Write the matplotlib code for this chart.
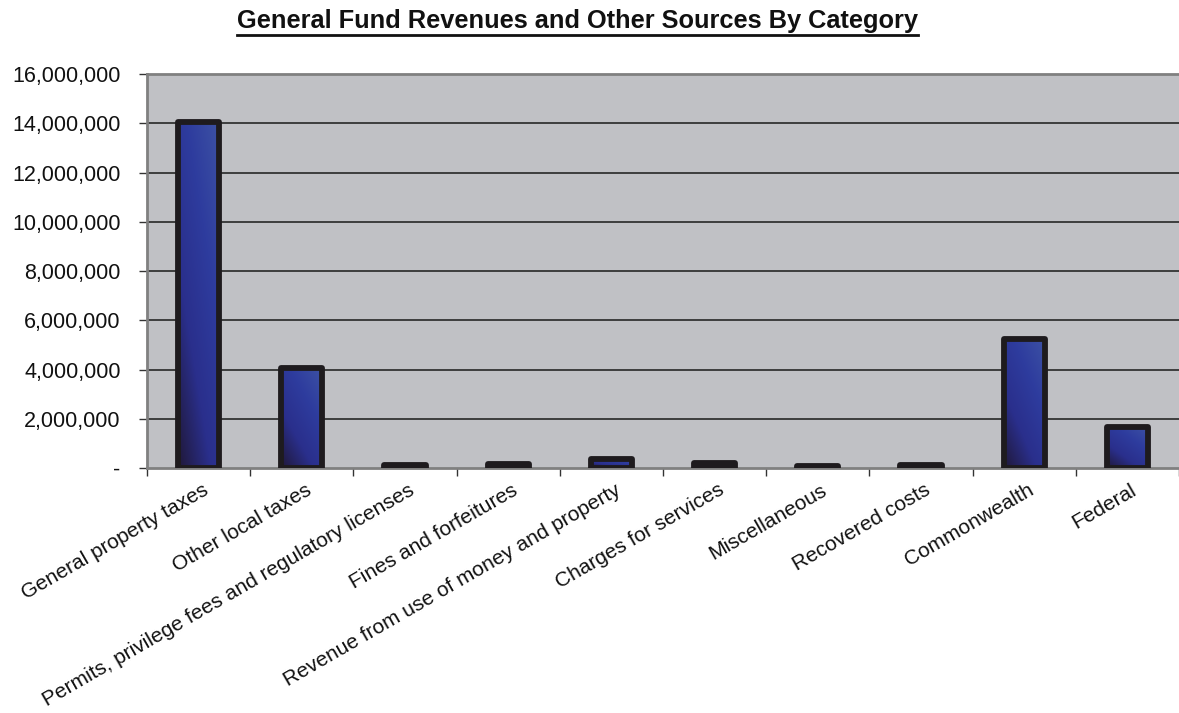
import numpy as np
import matplotlib
matplotlib.use("Agg")
import matplotlib.pyplot as plt
from matplotlib.colors import LinearSegmentedColormap
from matplotlib.lines import Line2D

categories = [
    "General property taxes",
    "Other local taxes",
    "Permits, privilege fees and regulatory licenses",
    "Fines and forfeitures",
    "Revenue from use of money and property",
    "Charges for services",
    "Miscellaneous",
    "Recovered costs",
    "Commonwealth",
    "Federal",
]
revenues = [14050000, 4050000, 110000, 160000, 380000, 200000, 70000, 130000, 5250000, 1650000]
y_ticks = [0, 2000000, 4000000, 6000000, 8000000, 10000000, 12000000, 14000000, 16000000]
y_tick_labels = ["-", "2,000,000", "4,000,000", "6,000,000", "8,000,000",
                 "10,000,000", "12,000,000", "14,000,000", "16,000,000"]
title = "General Fund Revenues and Other Sources By Category"

plt.rcParams["font.family"] = ["Liberation Sans", "DejaVu Sans"]

fig = plt.figure(figsize=(11.79, 7.13), dpi=100)
ax = fig.add_axes([0.1247, 0.3436, 0.8753, 0.5526])
ax.set_facecolor("#c0c1c5")

x = np.arange(len(categories))
bar_w = 0.40

# grid lines
for yt in y_ticks[1:-1]:
    ax.axhline(yt, color="#1a1a1a", lw=1.1, zorder=1)

# gradient: dark navy bottom-left to lighter blue top-right
cmap = LinearSegmentedColormap.from_list(
    "barfill", ["#201838", "#2a2f8c", "#2e3c9e", "#3d52a4"])
gy, gx = np.mgrid[0:1:200j, 0:1:60j]
grad = 0.55 * gx + 0.75 * gy
grad = grad / grad.max()

bars = ax.bar(x, revenues, width=bar_w, facecolor="none",
              edgecolor="#1e1b1e", linewidth=4.2, zorder=3, joinstyle="round")
for rect, val in zip(bars, revenues):
    x0 = rect.get_x()
    w = rect.get_width()
    im = ax.imshow(grad, cmap=cmap, origin="lower", aspect="auto",
                   extent=[x0, x0 + w, 0, val], zorder=2, interpolation="bilinear")
    im.set_clip_path(rect)
ax.set_xlim(-0.5, len(categories) - 0.5)
ax.set_ylim(0, 16000000)

# axes frame
for side in ["left", "bottom", "top", "right"]:
    ax.spines[side].set_color("#808080")
    ax.spines[side].set_linewidth(2.0)
ax.spines["right"].set_visible(False)

ax.set_yticks(y_ticks)
ax.set_yticklabels(y_tick_labels, fontsize=15.5, color="#111111")
ax.tick_params(axis="y", direction="out", length=6, width=1, color="#333333", pad=13)

ax.set_xticks(np.arange(-0.5, len(categories), 1.0), minor=False)
ax.set_xticklabels([])
ax.tick_params(axis="x", direction="out", length=6, width=1, color="#333333")
for xi, lab in zip(x, categories):
    ax.text(xi + 0.03, -500000, lab, rotation=30, ha="right", va="top",
            rotation_mode="anchor", fontsize=15, color="#111111",
            transform=ax.transData, clip_on=False)

# underlined bold title
t = fig.text(0.490, 0.970, title, ha="center", va="center",
             fontsize=18.3, fontweight="bold", color="#111111")
fig.canvas.draw()
bb = t.get_window_extent().transformed(fig.transFigure.inverted())
fig.add_artist(Line2D([bb.x0, bb.x1], [bb.y0 - 0.002, bb.y0 - 0.002],
                      transform=fig.transFigure, color="#111111", lw=2))

fig.savefig("out.png", dpi=100)
